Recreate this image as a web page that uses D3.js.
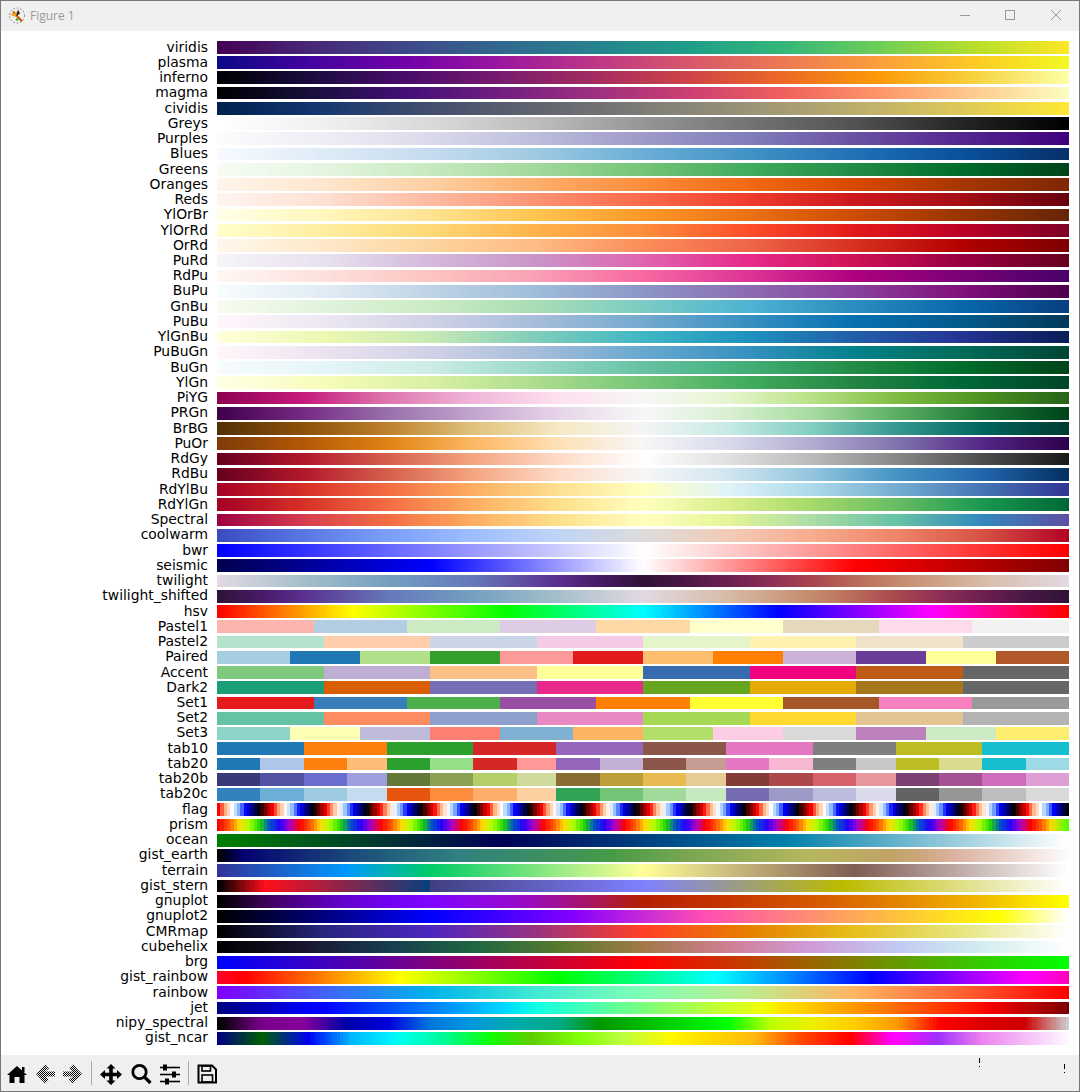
<!DOCTYPE html>
<html><head><meta charset="utf-8">
<script src="https://cdnjs.cloudflare.com/ajax/libs/d3/7.8.5/d3.min.js"></script>
<style>html,body{margin:0;padding:0;background:#fff;overflow:hidden}svg{display:block}</style>
</head><body><svg id="c" width="1080" height="1092"></svg>
<script>
const names = ["viridis","plasma","inferno","magma","cividis","Greys","Purples","Blues","Greens","Oranges","Reds","YlOrBr","YlOrRd","OrRd","PuRd","RdPu","BuPu","GnBu","PuBu","YlGnBu","PuBuGn","BuGn","YlGn","PiYG","PRGn","BrBG","PuOr","RdGy","RdBu","RdYlBu","RdYlGn","Spectral","coolwarm","bwr","seismic","twilight","twilight_shifted","hsv","Pastel1","Pastel2","Paired","Accent","Dark2","Set1","Set2","Set3","tab10","tab20","tab20b","tab20c","flag","prism","ocean","gist_earth","terrain","gist_stern","gnuplot","gnuplot2","CMRmap","cubehelix","brg","gist_rainbow","rainbow","jet","nipy_spectral","gist_ncar"];
const qualitative = ["Pastel1","Pastel2","Paired","Accent","Dark2","Set1","Set2","Set3","tab10","tab20","tab20b","tab20c"];

const viridis = ["#440154","#482878","#3e4989","#31688e","#26828e","#1f9e89","#35b779","#6ece58","#b5de2b","#fde725"];
const plasma = ["#0d0887","#46039f","#7201a8","#9c179e","#bd3786","#d8576b","#ed7953","#fb9f3a","#fdca26","#f0f921"];
const inferno = ["#000004","#1b0c41","#4a0c6b","#781c6d","#a52c60","#cf4446","#ed6925","#fb9b06","#f7d13d","#fcffa4"];
const magma = ["#000004","#180f3d","#440f76","#721f81","#9e2f7f","#cd4071","#f1605d","#fd9668","#feca8d","#fcfdbf"];
const cividis = ["#00224e","#123570","#3b496c","#575d6d","#707173","#8a8678","#a59c74","#c3b369","#e1cc55","#fee838"];
const Greys = ["#ffffff","#f0f0f0","#d9d9d9","#bdbdbd","#969696","#737373","#525252","#252525","#000000"];
const Purples = ["#fcfbfd","#efedf5","#dadaeb","#bcbddc","#9e9ac8","#807dba","#6a51a3","#54278f","#3f007d"];
const Blues = ["#f7fbff","#deebf7","#c6dbef","#9ecae1","#6baed6","#4292c6","#2171b5","#08519c","#08306b"];
const Greens = ["#f7fcf5","#e5f5e0","#c7e9c0","#a1d99b","#74c476","#41ab5d","#238b45","#006d2c","#00441b"];
const Oranges = ["#fff5eb","#fee6ce","#fdd0a2","#fdae6b","#fd8d3c","#f16913","#d94801","#a63603","#7f2704"];
const Reds = ["#fff5f0","#fee0d2","#fcbba1","#fc9272","#fb6a4a","#ef3b2c","#cb181d","#a50f15","#67000d"];
const YlOrBr = ["#ffffe5","#fff7bc","#fee391","#fec44f","#fe9929","#ec7014","#cc4c02","#993404","#662506"];
const YlOrRd = ["#ffffcc","#ffeda0","#fed976","#feb24c","#fd8d3c","#fc4e2a","#e31a1c","#bd0026","#800026"];
const OrRd = ["#fff7ec","#fee8c8","#fdd49e","#fdbb84","#fc8d59","#ef6548","#d7301f","#b30000","#7f0000"];
const PuRd = ["#f7f4f9","#e7e1ef","#d4b9da","#c994c7","#df65b0","#e7298a","#ce1256","#980043","#67001f"];
const RdPu = ["#fff7f3","#fde0dd","#fcc5c0","#fa9fb5","#f768a1","#dd3497","#ae017e","#7a0177","#49006a"];
const BuPu = ["#f7fcfd","#e0ecf4","#bfd3e6","#9ebcda","#8c96c6","#8c6bb1","#88419d","#810f7c","#4d004b"];
const GnBu = ["#f7fcf0","#e0f3db","#ccebc5","#a8ddb5","#7bccc4","#4eb3d3","#2b8cbe","#0868ac","#084081"];
const PuBu = ["#fff7fb","#ece7f2","#d0d1e6","#a6bddb","#74a9cf","#3690c0","#0570b0","#045a8d","#023858"];
const YlGnBu = ["#ffffd9","#edf8b1","#c7e9b4","#7fcdbb","#41b6c4","#1d91c0","#225ea8","#253494","#081d58"];
const PuBuGn = ["#fff7fb","#ece2f0","#d0d1e6","#a6bddb","#67a9cf","#3690c0","#02818a","#016c59","#014636"];
const BuGn = ["#f7fcfd","#e5f5f9","#ccece6","#99d8c9","#66c2a4","#41ae76","#238b45","#006d2c","#00441b"];
const YlGn = ["#ffffe5","#f7fcb9","#d9f0a3","#addd8e","#78c679","#41ab5d","#238443","#006837","#004529"];
const PiYG = ["#8e0152","#c51b7d","#de77ae","#f1b6da","#fde0ef","#f7f7f7","#e6f5d0","#b8e186","#7fbc41","#4d9221","#276419"];
const PRGn = ["#40004b","#762a83","#9970ab","#c2a5cf","#e7d4e8","#f7f7f7","#d9f0d3","#a6dba0","#5aae61","#1b7837","#00441b"];
const BrBG = ["#543005","#8c510a","#bf812d","#dfc27d","#f6e8c3","#f5f5f5","#c7eae5","#80cdc1","#35978f","#01665e","#003c30"];
const PuOr = ["#7f3b08","#b35806","#e08214","#fdb863","#fee0b6","#f7f7f7","#d8daeb","#b2abd2","#8073ac","#542788","#2d004b"];
const RdGy = ["#67001f","#b2182b","#d6604d","#f4a582","#fddbc7","#ffffff","#e0e0e0","#bababa","#878787","#4d4d4d","#1a1a1a"];
const RdBu = ["#67001f","#b2182b","#d6604d","#f4a582","#fddbc7","#f7f7f7","#d1e5f0","#92c5de","#4393c3","#2166ac","#053061"];
const RdYlBu = ["#a50026","#d73027","#f46d43","#fdae61","#fee090","#ffffbf","#e0f3f8","#abd9e9","#74add1","#4575b4","#313695"];
const RdYlGn = ["#a50026","#d73027","#f46d43","#fdae61","#fee08b","#ffffbf","#d9ef8b","#a6d96a","#66bd63","#1a9850","#006837"];
const Spectral = ["#9e0142","#d53e4f","#f46d43","#fdae61","#fee08b","#ffffbf","#e6f598","#abdda4","#66c2a5","#3288bd","#5e4fa2"];
const coolwarm = ["#3b4cc0","#5977e3","#7b9ff9","#9ebeff","#c0d4f5","#dddcdc","#f2cbb7","#f7ac8e","#ee8468","#d65244","#b40426"];
const bwr = ["#0000ff","#ffffff","#ff0000"];
const seismic = ["#00004d","#0000ff","#ffffff","#ff0000","#800000"];
const twilight = ["#e2d9e2","#a5bfca","#74a0c0","#6578ba","#5a2f90","#471a66","#2f1436","#4a1745","#6d1f50","#8c2f55","#a8464e","#b96a5a","#c58a6c","#d7bba7","#e2d9e2"];
const twilightAt = [0,0.1,0.2,0.3,0.4,0.45,0.5,0.55,0.6,0.65,0.7,0.75,0.8,0.9,1];
const twilight_shifted = ["#2f1436","#471a66","#5a2f90","#6578ba","#74a0c0","#a5bfca","#e2d9e2","#d7bba7","#c58a6c","#b96a5a","#a8464e","#8c2f55","#6d1f50","#4a1745","#2f1436"];
const twilight_shiftedAt = [0,0.05,0.1,0.2,0.3,0.4,0.5,0.6,0.7,0.75,0.8,0.85,0.9,0.95,1];
const hsv = ["#ff0000","#ffff00","#00ff00","#00ffff","#0000ff","#ff00ff","#ff0000"];
const hsvAt = [0,0.158,0.34,0.5,0.66,0.84,1];
const Pastel1 = ["#fbb4ae","#b3cde3","#ccebc5","#decbe4","#fed9a6","#ffffcc","#e5d8bd","#fddaec","#f2f2f2"];
const Pastel2 = ["#b3e2cd","#fdcdac","#cbd5e8","#f4cae4","#e6f5c9","#fff2ae","#f1e2cc","#cccccc"];
const Paired = ["#a6cee3","#1f78b4","#b2df8a","#33a02c","#fb9a99","#e31a1c","#fdbf6f","#ff7f00","#cab2d6","#6a3d9a","#ffff99","#b15928"];
const Accent = ["#7fc97f","#beaed4","#fdc086","#ffff99","#386cb0","#f0027f","#bf5b17","#666666"];
const Dark2 = ["#1b9e77","#d95f02","#7570b3","#e7298a","#66a61e","#e6ab02","#a6761d","#666666"];
const Set1 = ["#e41a1c","#377eb8","#4daf4a","#984ea3","#ff7f00","#ffff33","#a65628","#f781bf","#999999"];
const Set2 = ["#66c2a5","#fc8d62","#8da0cb","#e78ac3","#a6d854","#ffd92f","#e5c494","#b3b3b3"];
const Set3 = ["#8dd3c7","#ffffb3","#bebada","#fb8072","#80b1d3","#fdb462","#b3de69","#fccde5","#d9d9d9","#bc80bd","#ccebc5","#ffed6f"];
const tab10 = ["#1f77b4","#ff7f0e","#2ca02c","#d62728","#9467bd","#8c564b","#e377c2","#7f7f7f","#bcbd22","#17becf"];
const tab20 = ["#1f77b4","#aec7e8","#ff7f0e","#ffbb78","#2ca02c","#98df8a","#d62728","#ff9896","#9467bd","#c5b0d5","#8c564b","#c49c94","#e377c2","#f7b6d2","#7f7f7f","#c7c7c7","#bcbd22","#dbdb8d","#17becf","#9edae5"];
const tab20b = ["#393b79","#5254a3","#6b6ecf","#9c9ede","#637939","#8ca252","#b5cf6b","#cedb9c","#8c6d31","#bd9e39","#e7ba52","#e7cb94","#843c39","#ad494a","#d6616b","#e7969c","#7b4173","#a55194","#ce6dbd","#de9ed6"];
const tab20c = ["#3182bd","#6baed6","#9ecae1","#c6dbef","#e6550d","#fd8d3c","#fdae6b","#fdd0a2","#31a354","#74c476","#a1d99b","#c7e9c0","#756bb1","#9e9ac8","#bcbddc","#dadaeb","#636363","#969696","#bdbdbd","#d9d9d9"];
const flag = ["#ff0000","#ffb480","#ffffff","#80b4ff","#0000ff","#000080","#000000","#800000",
"#ff0000","#ffb480","#ffffff","#80b4ff","#0000ff","#000080","#000000","#800000",
"#ff0000","#ffb480","#ffffff","#80b4ff","#0000ff","#000080","#000000","#800000",
"#ff0000","#ffb480","#ffffff","#80b4ff","#0000ff","#000080","#000000","#800000",
"#ff0000","#ffb480","#ffffff","#80b4ff","#0000ff","#000080","#000000","#800000",
"#ff0000","#ffb480","#ffffff","#80b4ff","#0000ff","#000080","#000000","#800000",
"#ff0000","#ffb480","#ffffff","#80b4ff","#0000ff","#000080","#000000","#800000",
"#ff0000","#ffb480","#ffffff","#80b4ff","#0000ff","#000080","#000000","#800000",
"#ff0000","#ffb480","#ffffff","#80b4ff","#0000ff","#000080","#000000","#800000",
"#ff0000","#ffb480","#ffffff","#80b4ff","#0000ff","#000080","#000000","#800000",
"#ff0000","#ffb480","#ffffff","#80b4ff","#0000ff","#000080","#000000","#800000",
"#ff0000","#ffb480","#ffffff","#80b4ff","#0000ff","#000080","#000000","#800000",
"#ff0000","#ffb480","#ffffff","#80b4ff","#0000ff","#000080","#000000","#800000",
"#ff0000","#ffb480","#ffffff","#80b4ff","#0000ff","#000080","#000000","#800000",
"#ff0000","#ffb480","#ffffff","#80b4ff","#0000ff","#000080","#000000","#800000",
"#ff0000","#ffb480","#ffffff","#80b4ff","#0000ff","#000080","#000000"];
const prism = ["#ff0000","#ff5400","#ffdb00","#aaff00","#24db00","#0054c6","#2400ff","#aa00c6",
"#ff0000","#ff5400","#ffdb00","#aaff00","#24db00","#0054c6","#2400ff","#aa00c6",
"#ff0000","#ff5400","#ffdb00","#aaff00","#24db00","#0054c6","#2400ff","#aa00c6",
"#ff0000","#ff5400","#ffdb00","#aaff00","#24db00","#0054c6","#2400ff","#aa00c6",
"#ff0000","#ff5400","#ffdb00","#aaff00","#24db00","#0054c6","#2400ff","#aa00c6",
"#ff0000","#ff5400","#ffdb00","#aaff00","#24db00","#0054c6","#2400ff","#aa00c6",
"#ff0000","#ff5400","#ffdb00","#aaff00","#24db00","#0054c6","#2400ff","#aa00c6",
"#ff0000","#ff5400","#ffdb00","#aaff00","#24db00","#0054c6","#2400ff","#aa00c6",
"#ff0000","#ff5400","#ffdb00","#aaff00","#24db00","#0054c6","#2400ff","#aa00c6",
"#ff0000","#ff5400","#ffdb00","#aaff00","#24db00","#0054c6","#2400ff","#aa00c6",
"#ff0000","#ff5400","#ffdb00","#54ff00"];
const prismAt = d3.range(0, 83).map(k => k * 0.25 / 20.9).concat([1]);
const ocean = ["#008000","#000055","#0080aa","#ffffff"];
const gist_earth = ["#000000","#05006e","#133078","#1c4d7a","#23627c","#308080","#459a49","#4a9b46","#68a34e","#78a652","#b7b75e","#c0a365","#cca87f","#dcb4a3","#e9d0c8","#f8f0f0","#fdfbfb"];
const gist_earthAt = [0,0.0275,0.11,0.165,0.208,0.2824,0.4588,0.4667,0.5216,0.549,0.698,0.788,0.83,0.87,0.925,0.98,1];
const terrain = ["#333399","#0099ff","#00cc66","#ffff99","#805c54","#ffffff"];
const terrainAt = [0,0.15,0.25,0.5,0.75,1];
const gist_stern = ["#000000","#ff0e1c","#074080","#404080","#8080ff","#bbbb00","#ffffff"];
const gist_sternAt = [0,0.0547,0.25,0.2501,0.5,0.735,1];
const gnuplot = ["#000000","#39004f","#510096","#6301ce","#7202f2","#8004ff","#970bce","#a11096","#ab174f","#b42000","#c63700","#d55700","#e48300","#f2ba00","#ffff00"];
const gnuplotAt = [0,0.05,0.1,0.15,0.2,0.25,0.35,0.4,0.45,0.5,0.6,0.7,0.8,0.9,1];
const gnuplot2 = ["#000000","#0000ff","#8700ff","#ff4db3","#ffff00","#ffffff"];
const gnuplot2At = [0,0.25,0.42,0.57,0.92,1];
const CMRmap = ["#000000","#262680","#4d26bf","#993380","#ff4026","#e68000","#e6bf1a","#e6e680","#ffffff"];
const cubehelix = ["#000000","#1a1530","#163d4e","#1f6642","#54792f","#a07949","#d07e93","#cf9cda","#c1caf3","#d2eeef","#ffffff"];
const brg = ["#0000ff","#ff0000","#00ff00"];
const gist_rainbow = ["#ff0029","#ff0000","#ffff00","#00ff00","#00ffff","#0000ff","#ff00ff","#ff00bf"];
const gist_rainbowAt = [0,0.03,0.215,0.4,0.586,0.77,0.954,1];
const rainbow = ["#8000ff","#4062fa","#00b4eb","#40ebd4","#80ffb4","#bfeb8e","#ffb462","#ff6232","#ff0000"];
const jet = ["#000080","#0000ff","#0000ff","#00dbff","#00e6f7","#14ffe6","#eeff08","#f7f600","#ffe900","#ff1400","#f40000","#800000"];
const jetAt = [0,0.11,0.125,0.34,0.35,0.375,0.64,0.65,0.66,0.89,0.91,1];
const nipy_spectral = ["#000000","#770088","#880099","#0000aa","#0000dd","#0077dd","#0099dd","#00aaaa","#00aa88","#009900","#00bb00","#00dd00","#00ff00","#bbff00","#eeee00","#ffcc00","#ff9900","#ff0000","#dd0000","#cc0000","#cccccc"];
const gist_ncar = ["#000080","#005f06","#0000f5","#00b8ff","#00f2ff","#00ffeb","#00fa9d","#0cff0d","#14fa00","#60ce00","#80ff08","#baff3c","#fff800","#ffda00","#ffba0e","#ff4700","#ff0a00","#ff0000","#ff00f8","#ff07ff","#9f30ff","#eb80ee","#fef8fe"];
const gist_ncarAt = [0,0.051,0.106,0.157,0.204,0.216,0.263,0.317,0.322,0.369,0.4235,0.4745,0.533,0.58,0.631,0.686,0.737,0.745,0.792,0.8,0.847,0.898,1];

const palettes = {viridis,plasma,inferno,magma,cividis,Greys,Purples,Blues,Greens,Oranges,Reds,YlOrBr,YlOrRd,OrRd,PuRd,RdPu,BuPu,GnBu,PuBu,YlGnBu,PuBuGn,BuGn,YlGn,PiYG,PRGn,BrBG,PuOr,RdGy,RdBu,RdYlBu,RdYlGn,Spectral,coolwarm,bwr,seismic,twilight,twilight_shifted,hsv,Pastel1,Pastel2,Paired,Accent,Dark2,Set1,Set2,Set3,tab10,tab20,tab20b,tab20c,flag,prism,ocean,gist_earth,terrain,gist_stern,gnuplot,gnuplot2,CMRmap,cubehelix,brg,gist_rainbow,rainbow,jet,nipy_spectral,gist_ncar};
const positions = {twilight:twilightAt,twilight_shifted:twilight_shiftedAt,hsv:hsvAt,prism:prismAt,gist_earth:gist_earthAt,terrain:terrainAt,gist_stern:gist_sternAt,gnuplot:gnuplotAt,gnuplot2:gnuplot2At,gist_rainbow:gist_rainbowAt,jet:jetAt,gist_ncar:gist_ncarAt};

const levels = 256;
const svg = d3.select("#c");

// Window chrome
svg.append("rect").attr("width",1080).attr("height",1092).attr("fill","#fff");
svg.append("rect").attr("x",0).attr("y",0).attr("width",1080).attr("height",31).attr("fill","#f0f0f0");
svg.append("rect").attr("x",0).attr("y",1055).attr("width",1080).attr("height",37).attr("fill","#efefef");
svg.append("text").attr("x",30).attr("y",20).attr("font-family","'Open Sans','Noto Sans',sans-serif").attr("font-size",12).attr("fill","#999").text("Figure 1");

// Colour strips
const yBand = d3.scaleBand().domain(names).range([40.8,1044.95]).paddingInner(0.1541).paddingOuter(0);
const yText = d3.scalePoint().domain(names).range([51.6,1042.33]);
const x = d3.scaleBand().domain(d3.range(levels)).range([217,1069]);
const t = d3.scaleLinear().domain([0,levels-1]).range([0,1]);
const rows = svg.append("g").selectAll("g").data(names).join("g");
rows.append("text")
  .attr("x",208).attr("y",n=>Math.round(yText(n)))
  .attr("text-anchor","end")
  .attr("font-family","'DejaVu Sans',sans-serif").attr("font-size",13.89).attr("fill","#000")
  .text(n=>n);
rows.each(function(n){
  const stops = palettes[n];
  let scale;
  if (qualitative.includes(n)) scale = d3.scaleQuantize().domain([0,1]).range(stops);
  else {
    const at = positions[n] || stops.map((_,k)=>k/(stops.length-1));
    scale = d3.scaleLinear().domain(at).range(stops).clamp(true);
  }
  const y0 = Math.round(yBand(n)), y1 = Math.round(yBand(n)+yBand.bandwidth());
  d3.select(this).append("g").attr("shape-rendering","crispEdges").selectAll("rect").data(d3.range(levels)).join("rect")
    .attr("x",i=>Math.round(x(i))).attr("y",y0)
    .attr("width",i=>Math.round(x(i)+x.bandwidth())-Math.round(x(i))).attr("height",y1-y0)
    .attr("fill",i=>scale(t(i)));
});

// Window buttons
const btn = svg.append("g").attr("stroke","#999").attr("fill","none").attr("stroke-width",1).attr("shape-rendering","crispEdges");
btn.append("line").attr("x1",960).attr("x2",970).attr("y1",15.5).attr("y2",15.5);
btn.append("rect").attr("x",1005.5).attr("y",10.5).attr("width",9).attr("height",9).attr("rx",1);
btn.append("path").attr("d","M1051 10L1061 20M1061 10L1051 20").attr("shape-rendering","auto");

// Small app icon
const ic = svg.append("g").attr("transform","translate(17,15.5)");
ic.append("circle").attr("r",7.5).attr("fill","none").attr("stroke","#777").attr("stroke-dasharray","1.5 2");
ic.append("path").attr("d","M-4 -4L5 6").attr("stroke","#c85a00").attr("stroke-width",2);
ic.append("path").attr("d","M-7 -1L1 -4L0 2Z").attr("fill","#f0a020");
ic.append("path").attr("d","M1 -6L3 -2L-1 1Z").attr("fill","#222");
ic.append("circle").attr("cx",0).attr("cy",4).attr("r",1.3).attr("fill","#3a3");

// Toolbar
const defs = svg.append("defs");
const pat = defs.append("pattern").attr("id","dither").attr("width",2).attr("height",2).attr("patternUnits","userSpaceOnUse");
pat.append("rect").attr("width",1).attr("height",1).attr("fill","#000");
pat.append("rect").attr("x",1).attr("y",1).attr("width",1).attr("height",1).attr("fill","#000");
const tb = svg.append("g");
tb.append("path").attr("d","M17 1066L27 1075L24.5 1075L24.5 1083L19.5 1083L19.5 1077L14.5 1077L14.5 1083L9.5 1083L9.5 1075L7 1075Z").attr("fill","#000");
tb.append("rect").attr("x",22).attr("y",1067).attr("width",2.5).attr("height",5).attr("fill","#000");
tb.append("path").attr("d","M36 1074L45 1064.5L49 1068.5L45 1071.5L55 1071.5L55 1076.5L45 1076.5L49 1079.5L45 1083.5Z").attr("fill","url(#dither)");
tb.append("path").attr("d","M82 1074L73 1064.5L69 1068.5L73 1071.5L63 1071.5L63 1076.5L73 1076.5L69 1079.5L73 1083.5Z").attr("fill","url(#dither)");
tb.append("g").attr("stroke","#aaa").selectAll("line").data([91.5,188.5]).join("line").attr("x1",d=>d).attr("x2",d=>d).attr("y1",1061).attr("y2",1085);
tb.append("path").attr("d","M111 1064L115.5 1068.5L112.8 1068.5L112.8 1072.8L117 1072.8L117 1070L122 1074.5L117 1079L117 1076.2L112.8 1076.2L112.8 1080.5L115.5 1080.5L111 1085L106.5 1080.5L109.2 1080.5L109.2 1076.2L105 1076.2L105 1079L100 1074.5L105 1070L105 1072.8L109.2 1072.8L109.2 1068.5L106.5 1068.5Z").attr("fill","#000");
tb.append("circle").attr("cx",139.5).attr("cy",1072).attr("r",6.7).attr("fill","none").attr("stroke","#000").attr("stroke-width",2.8);
tb.append("line").attr("x1",144.5).attr("y1",1077).attr("x2",150.5).attr("y2",1083).attr("stroke","#000").attr("stroke-width",3.2);
const sl = tb.append("g").attr("stroke","#000").attr("stroke-width",1.6);
[1067.5,1074.5,1081.5].forEach(y=>sl.append("line").attr("x1",160).attr("x2",180).attr("y1",y).attr("y2",y));
[[165,1067.5],[174,1074.5],[167,1081.5]].forEach(d=>tb.append("rect").attr("x",d[0]-2).attr("y",d[1]-3).attr("width",4).attr("height",6).attr("fill","#000"));
tb.append("path").attr("d","M198.5 1065.5L212 1065.5L216 1069.5L216 1082.5L198.5 1082.5Z").attr("fill","none").attr("stroke","#000").attr("stroke-width",2);
tb.append("rect").attr("x",202).attr("y",1066).attr("width",8.5).attr("height",5).attr("fill","none").attr("stroke","#000").attr("stroke-width",1.6);
tb.append("rect").attr("x",202).attr("y",1075).attr("width",10.5).attr("height",7).attr("fill","none").attr("stroke","#000").attr("stroke-width",1.6);
[[979,1058,5],[979,1066,1],[1064,1064,5],[1064,1072,1]].forEach(d=>tb.append("rect").attr("x",d[0]).attr("y",d[1]).attr("width",1).attr("height",d[2]).attr("fill","#000").attr("shape-rendering","crispEdges"));

// Window border
svg.append("rect").attr("x",0.5).attr("y",0.5).attr("width",1079).attr("height",1091).attr("fill","none").attr("stroke","#777").attr("shape-rendering","crispEdges");
</script></body></html>
